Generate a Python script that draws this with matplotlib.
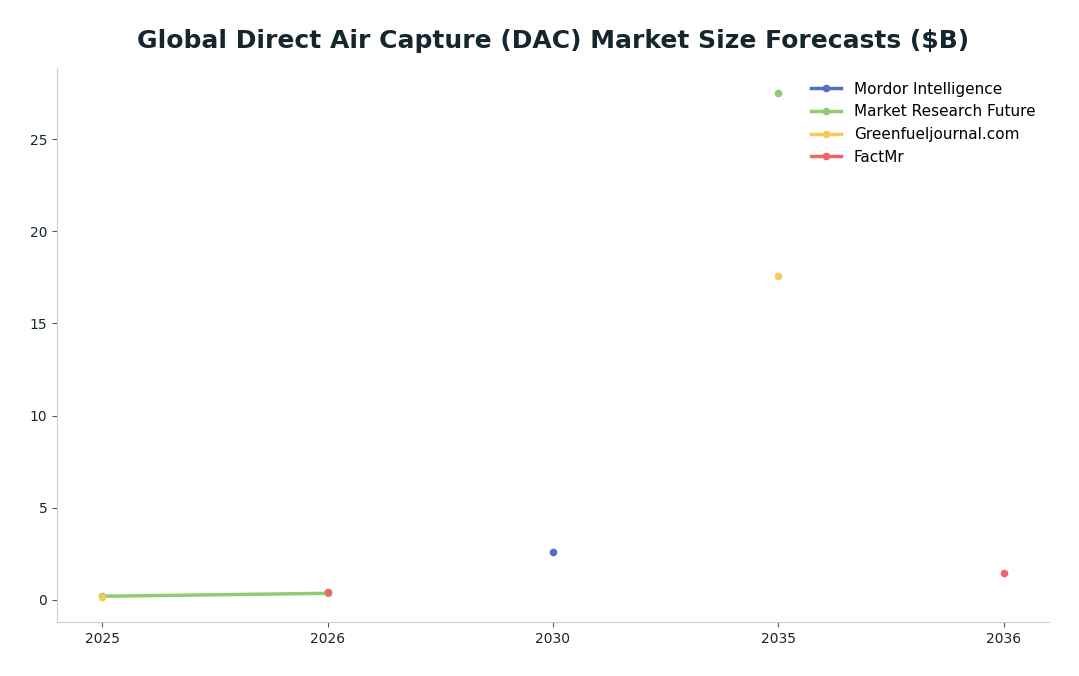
import matplotlib
matplotlib.use("Agg")
import matplotlib.pyplot as plt
import numpy as np

years = ["2025", "2026", "2030", "2035", "2036"]
series_names = ["Mordor Intelligence", "Market Research Future", "Greenfueljournal.com", "FactMr"]
mordor = [None, None, 2.6, None, None]
mrf = [0.19, 0.35, None, 27.5, None]
greenfuel = [0.16, None, None, 17.57, None]
factmr = [None, 0.41, None, None, 1.46]
colors = ["#5470C6", "#91CC75", "#FAC858", "#EE6666"]

fig = plt.figure(figsize=(10.79, 6.76), dpi=100)
ax = fig.add_axes([0.0528, 0.0799, 0.9194, 0.8195])

x = np.arange(len(years))
for name, vals, c in zip(series_names, [mordor, mrf, greenfuel, factmr], colors):
    y = np.array([np.nan if v is None else v for v in vals], dtype=float)
    ax.plot(x, y, color=c, linewidth=2.5, marker="o", markersize=4.5, label=name)

ax.set_xticks(x)
ax.set_xticklabels(years)
ax.tick_params(colors="#555555", labelcolor="#15262f", labelsize=10)
for s in ["top", "right"]:
    ax.spines[s].set_visible(False)
for s in ["left", "bottom"]:
    ax.spines[s].set_color("#cccccc")

fig.text(553 / 1079, 1 - 41 / 676,
         "Global Direct Air Capture (DAC) Market Size Forecasts ($B)",
         fontsize=18, fontweight="bold", color="#15262f", ha="center", va="center")
ax.legend(loc="upper right", frameon=False, fontsize=11, handlelength=2.0)

fig.savefig("out.png", dpi=100)
